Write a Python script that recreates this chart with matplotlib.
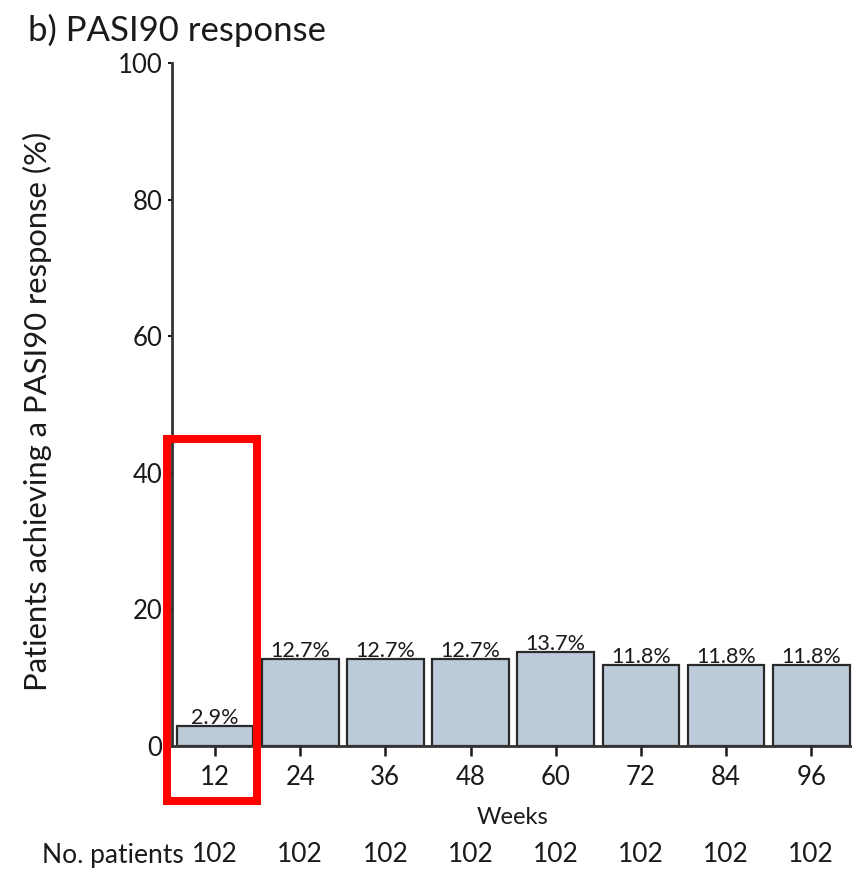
import matplotlib
matplotlib.use("Agg")
import matplotlib.pyplot as plt
import matplotlib.transforms as mtransforms
from matplotlib.patches import Rectangle

plt.rcParams['font.family'] = ['Lato', 'DejaVu Sans']

weeks = ['12', '24', '36', '48', '60', '72', '84', '96']
pasi90 = [2.9, 12.7, 12.7, 12.7, 13.7, 11.8, 11.8, 11.8]
n_patients = [102, 102, 102, 102, 102, 102, 102, 102]

TXT = '#1a1a1a'

fig = plt.figure(figsize=(8.53, 8.69), dpi=100)
ax = fig.add_axes([172 / 853, (869 - 746) / 869, 1 - 172 / 853, (746 - 63) / 869])

x = list(range(len(weeks)))
ax.bar(x, pasi90, width=0.9, color='#bccad9', edgecolor='#2a2a2a', linewidth=1.6, zorder=2)

# value labels on top of bars
for xi, v in zip(x, pasi90):
    ax.text(xi, v - 0.25, f"{v:.1f}%", ha='center', va='bottom', fontsize=15.5, color=TXT)

ax.set_xlim(-0.505, 7.49)
ax.set_ylim(0, 100)
ax.set_yticks([0, 20, 40, 60, 80, 100])
ax.set_xticks(x)
ax.set_xticklabels(weeks)
ax.tick_params(axis='y', labelsize=18.5, length=3, width=1.5, pad=4, colors=TXT)
ax.tick_params(axis='x', labelsize=18.5, length=7, width=1.8, pad=7, colors=TXT)

for side in ['top', 'right']:
    ax.spines[side].set_visible(False)
for side in ['left', 'bottom']:
    ax.spines[side].set_linewidth(2.0)
    ax.spines[side].set_color('#333333')

ax.set_ylabel('Patients achieving a PASI90 response (%)', fontsize=22.3, color=TXT)
ax.yaxis.set_label_coords(-0.176, 0.49)

fig.text(28 / 853, 1 - 30 / 869, 'b) PASI90 response', fontsize=25, va='center', ha='left', color=TXT)
fig.text(513 / 853, 1 - 817 / 869, 'Weeks', fontsize=17, ha='center', va='center', color=TXT)

# patient counts row
row = mtransforms.blended_transform_factory(ax.transData, fig.transFigure)
fig.text(42 / 853, 1 - 855 / 869, 'No. patients', fontsize=19, ha='left', va='center', color=TXT)
for xi, n in zip(x, n_patients):
    ax.text(xi, 1 - 855 / 869, str(n), transform=row, fontsize=19, ha='center', va='center', color=TXT)

# red highlight box around week 12
ax.add_patch(Rectangle((-0.563, -8.05), 1.056, 53.0, fill=False, edgecolor='#ff0000',
                       linewidth=5.8, clip_on=False, zorder=5))

fig.savefig('out.png', dpi=100)
